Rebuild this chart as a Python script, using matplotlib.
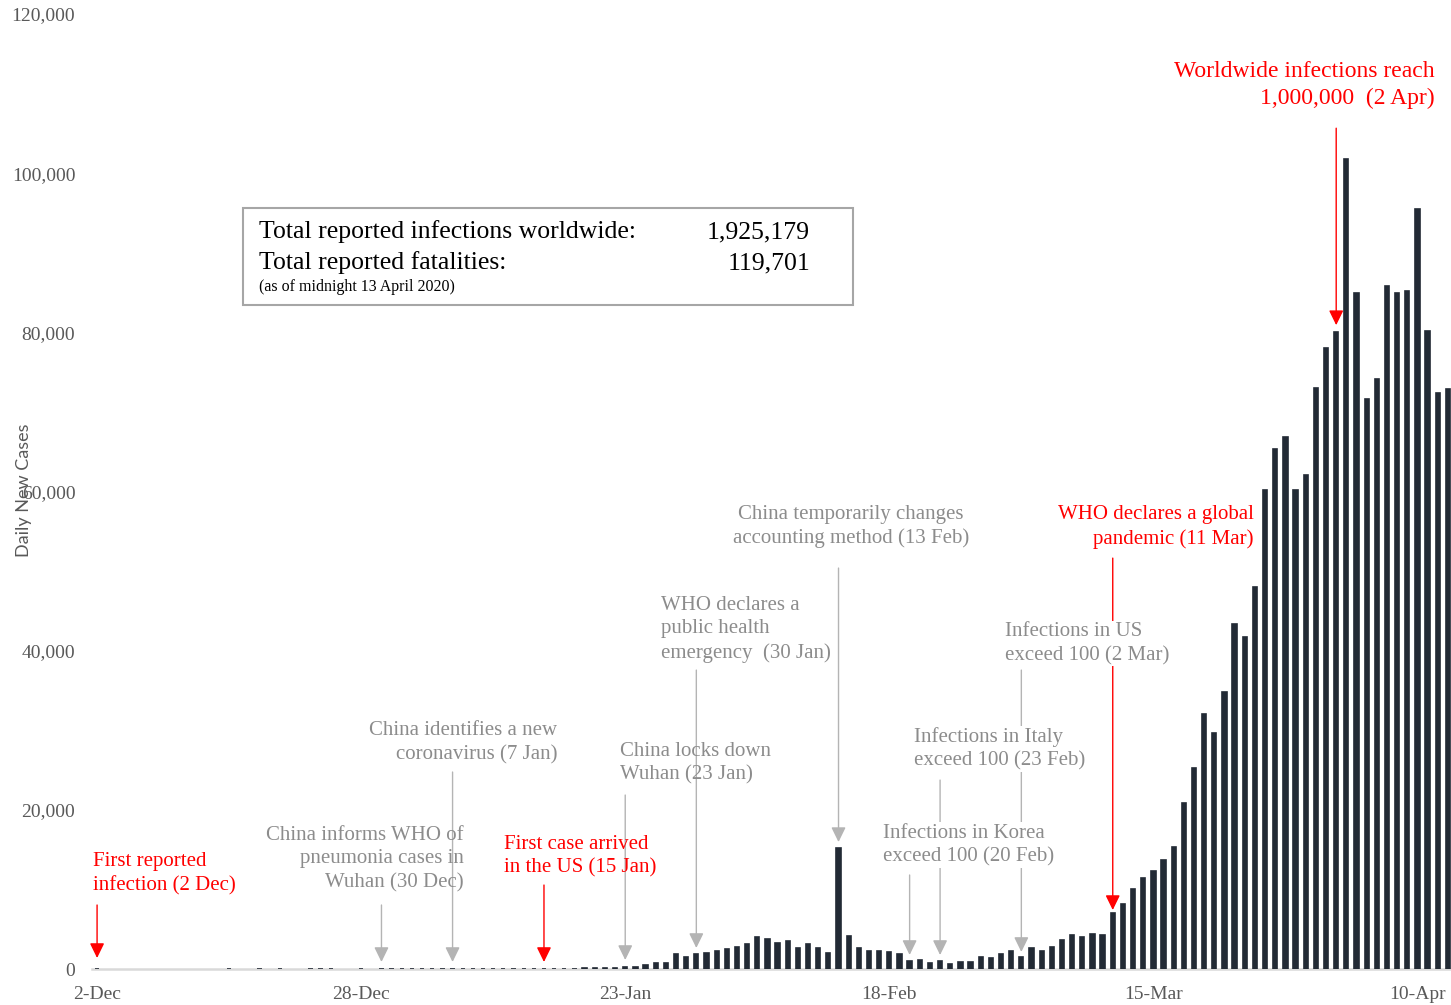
import numpy as np
import matplotlib
matplotlib.use('Agg')
import matplotlib.pyplot as plt
from matplotlib.patches import Rectangle

plt.rcParams['font.family'] = ['Liberation Serif', 'DejaVu Serif']

# daily new cases, one value per day starting 2 Dec 2019 (index 0) up to 13 Apr 2020
daily_cases = [
    1, 0, 0, 0, 0, 0, 0, 0, 0, 0, 0, 0, 0,
    1, 0, 0, 1, 0, 1, 0, 0, 1, 1, 1, 0, 0, 2, 0,
    3, 27,
    14, 10, 5, 4, 7, 8, 3, 6, 5, 2, 4, 3, 2, 1, 5, 10, 17, 19, 77, 136,
    151, 140, 250, 300,
    500, 750, 750, 1850, 1550, 1850, 2050, 2200, 2550, 2800, 3180, 3980, 3730,
    3220, 3480, 2680, 3100, 2600, 2050,
    15160, 4150, 2700, 2220, 2220, 2100, 1850, 1050, 1170, 750, 1000, 630, 880,
    880, 1550, 1380, 1900, 2300, 1550, 2680, 2320, 2820, 3600, 4230, 4000, 4360, 4230,
    7000, 8170, 10090, 11390, 12310, 13740, 15330, 20850, 25300, 32100, 29600,
    34840, 43340, 41670, 48030, 60180, 65330, 66800, 60180, 62100, 73050, 77970,
    80060, 101800, 84880, 71600, 74080, 85760, 84880, 85220, 95440, 80190, 72320, 72900,
]

tick_days = [0, 26, 52, 78, 104, 130]
tick_labels = ['2-Dec', '28-Dec', '23-Jan', '18-Feb', '15-Mar', '10-Apr']
y_ticks = [0, 20000, 40000, 60000, 80000, 100000, 120000]

total_infections = '1,925,179'
total_fatalities = '119,701'

RED = '#ff0000'
GRAY_TXT = '#8c8c8c'
GRAY_ARR = '#b4b4b4'
BAR = '#222a35'

fig = plt.figure(figsize=(14.51, 10.05), dpi=100)
ax = fig.add_axes([92/1451, 36/1005, 1361/1451, 955/1005])

vals = np.array(daily_cases, dtype=float)
days = np.arange(len(vals))
m = vals > 0
ax.bar(days[m], vals[m], width=0.42, color=BAR, edgecolor=BAR, linewidth=1.2, zorder=3)

ax.set_xlim(-0.5, 133.5)
ax.set_ylim(0, 120000)
ax.set_xticks(tick_days)
ax.set_xticklabels(tick_labels)
ax.set_yticks(y_ticks)
ax.set_yticklabels(['{:,}'.format(v) for v in y_ticks])
ax.tick_params(axis='both', length=0, labelsize=14, labelcolor='#595959')
ax.tick_params(axis='y', pad=12)
ax.tick_params(axis='x', pad=12)
for s in ['top', 'right', 'left']:
    ax.spines[s].set_visible(False)
ax.spines['bottom'].set_color('#d9d9d9')
ax.spines['bottom'].set_linewidth(1.8)
ax.spines['bottom'].set_zorder(2)

fig.text(24/1451, 1 - 490/1005, 'Daily New Cases', rotation=90, ha='center', va='center',
         fontsize=13, color='#595959', family=['Lato', 'DejaVu Sans'])


def arrow(d, y0, y1, color):
    ax.annotate('', xy=(d, y1), xytext=(d, y0), zorder=4,
                arrowprops=dict(arrowstyle='-|>,head_width=0.22,head_length=0.45',
                                color=color, lw=1, shrinkA=0, shrinkB=0,
                                mutation_scale=20))


def note(x, y, s, color, ha='left', box=False, size=15):
    kw = {}
    if box:
        kw['bbox'] = dict(facecolor='white', edgecolor='none', pad=1)
    ax.text(x, y, s, color=color, ha=ha, va='center', multialignment=ha,
            fontsize=size, linespacing=1.32, zorder=5, **kw)


# arrows (day, tail value, head value)
arrow(0, 8040, 1380, RED)
arrow(44, 10550, 880, RED)
arrow(100, 51630, 7410, RED)
arrow(122, 105650, 80900, RED)
arrow(28, 8040, 880, GRAY_ARR)
arrow(35, 24750, 880, GRAY_ARR)
arrow(52, 21860, 1130, GRAY_ARR)
arrow(59, 37560, 2640, GRAY_ARR)
arrow(73, 50380, 15950, GRAY_ARR)
arrow(80, 11810, 1760, GRAY_ARR)
arrow(83, 23740, 1760, GRAY_ARR)
arrow(91, 37560, 2140, GRAY_ARR)

note(-0.4, 12000, 'First reported\ninfection (2 Dec)', RED)
note(40.1, 14200, 'First case arrived\nin the US (15 Jan)', RED)
note(113.9, 55530, 'WHO declares a global\npandemic (11 Mar)', RED, ha='right')
note(131.7, 111060, 'Worldwide infections reach\n1,000,000  (2 Apr)', RED, ha='right', size=17)

note(36.1, 13820, 'China informs WHO of\npneumonia cases in\nWuhan (30 Dec)', GRAY_TXT, ha='right')
note(45.3, 28450, 'China identifies a new\ncoronavirus (7 Jan)', GRAY_TXT, ha='right')
note(51.5, 25820, 'China locks down\nWuhan (23 Jan)', GRAY_TXT)
note(55.5, 42710, 'WHO declares a\npublic health\nemergency  (30 Jan)', GRAY_TXT)
note(74.2, 55590, 'China temporarily changes\naccounting method (13 Feb)', GRAY_TXT, ha='center')
note(77.4, 15580, 'Infections in Korea\nexceed 100 (20 Feb)', GRAY_TXT, box=True)
note(80.4, 27640, 'Infections in Italy\nexceed 100 (23 Feb)', GRAY_TXT, box=True)
note(89.4, 40890, 'Infections in US\nexceed 100 (2 Mar)', GRAY_TXT, box=True)

# totals box
fig.patches.append(Rectangle((243/1451, 1 - 305/1005), 610/1451, 97/1005,
                             transform=fig.transFigure, facecolor='white',
                             edgecolor='#a6a6a6', linewidth=1.5, zorder=6))
fig.text(259/1451, 1 - 232/1005, 'Total reported infections worldwide:', fontsize=18.5,
         va='center', ha='left', zorder=7)
fig.text(259/1451, 1 - 263/1005, 'Total reported fatalities:', fontsize=18.5,
         va='center', ha='left', zorder=7)
fig.text(810/1451, 1 - 232/1005, total_infections, fontsize=18.5, va='center', ha='right', zorder=7)
fig.text(810/1451, 1 - 263/1005, total_fatalities, fontsize=18.5, va='center', ha='right', zorder=7)
fig.text(259/1451, 1 - 287/1005, '(as of midnight 13 April 2020)', fontsize=11.5,
         va='center', ha='left', zorder=7)

fig.savefig('out.png', dpi=100)
